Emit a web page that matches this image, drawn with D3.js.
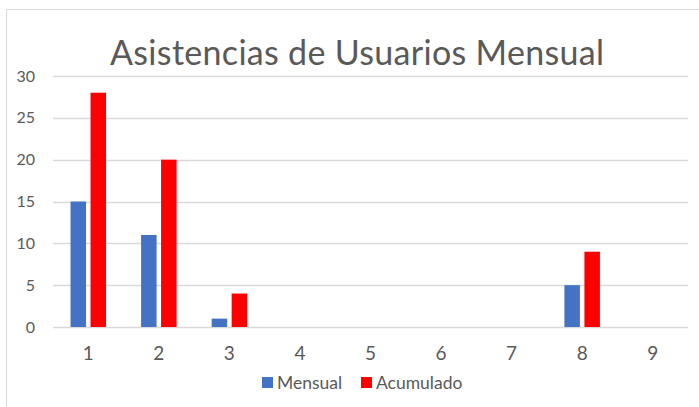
<!DOCTYPE html>
<html>
<head>
<meta charset="utf-8">
<script src="https://cdn.jsdelivr.net/npm/d3@7"></script>
<style>
  body { margin: 0; background: #fff; }
  text { font-family: Lato, "Open Sans", sans-serif; fill: #595959; }
</style>
</head>
<body>
<script>
// chart data
var categories = ["1", "2", "3", "4", "5", "6", "7", "8", "9"];
var mensual = [15, 11, 1, 0, 0, 0, 0, 5, 0];
var acumulado = [28, 20, 4, 0, 0, 0, 0, 9, 0];
var yTicks = [0, 5, 10, 15, 20, 25, 30];
var seriesNames = ["Mensual", "Acumulado"];
var seriesColors = ["#4472c4", "#ff0000"];

var width = 699, height = 407;
var plot = {left: 53, right: 688, top: 76, bottom: 327};

var svg = d3.select("body")
  .append("svg")
  .attr("width", width)
  .attr("height", height);

// chart frame
svg.append("path")
  .attr("d", "M6.5,420 V9.5 H720")
  .attr("fill", "none")
  .attr("stroke", "#d9d9d9")
  .attr("stroke-width", 1);

svg.append("text")
  .attr("x", 357)
  .attr("y", 65)
  .attr("text-anchor", "middle")
  .style("font-size", "34px")
  .attr("textLength", 494)
  .attr("lengthAdjust", "spacing")
  .text("Asistencias de Usuarios Mensual");

var x = d3.scaleBand()
  .domain(categories)
  .range([plot.left, plot.right]);

var y = d3.scaleLinear()
  .domain([0, 30])
  .range([plot.bottom, plot.top]);

// gridlines
svg.selectAll("line.grid")
  .data(yTicks)
  .enter()
  .append("line")
  .attr("class", "grid")
  .attr("x1", plot.left)
  .attr("x2", plot.right)
  .attr("y1", function(d) { return Math.round(y(d)) + 0.5 })
  .attr("y2", function(d) { return Math.round(y(d)) + 0.5 })
  .attr("stroke", "#d9d9d9")
  .attr("stroke-width", 1.5);

var yAxis = svg.append("g")
  .attr("transform", "translate(35,0)")
  .call(d3.axisLeft(y).tickValues(yTicks).tickSize(0).tickPadding(0));
yAxis.select(".domain").remove();
yAxis.selectAll("text")
  .style("font-size", "16px")
  .attr("fill", "#595959");

var xAxis = svg.append("g")
  .attr("transform", "translate(0," + plot.bottom + ")")
  .call(d3.axisBottom(x).tickSize(0).tickPadding(20));
xAxis.select(".domain").remove();
xAxis.selectAll("text")
  .style("font-size", "19px")
  .attr("fill", "#595959");

var barW = 15.5, gap = 4.5;
var series = [mensual, acumulado];

series.forEach(function(vals, s) {
  svg.selectAll("rect.s" + s)
    .data(vals)
    .enter()
    .append("rect")
    .attr("class", "s" + s)
    .attr("x", function(d, i) {
      var c = x(categories[i]) + x.bandwidth() / 2;
      return s === 0 ? c - gap / 2 - barW : c + gap / 2;
    })
    .attr("y", function(d) { return y(d) })
    .attr("width", barW)
    .attr("height", function(d) { return y(0) - y(d) })
    .attr("fill", seriesColors[s]);
});

// legend
var legendX = [262, 361];
var legend = svg.selectAll("g.legend")
  .data(seriesNames)
  .enter()
  .append("g")
  .attr("class", "legend")
  .attr("transform", function(d, i) { return "translate(" + legendX[i] + ",377)" });

legend.append("rect")
  .attr("width", 11)
  .attr("height", 11)
  .attr("fill", function(d, i) { return seriesColors[i] });

legend.append("text")
  .attr("x", 15)
  .attr("y", 11.5)
  .style("font-size", "17.5px")
  .text(function(d) { return d });
</script>
</body>
</html>
